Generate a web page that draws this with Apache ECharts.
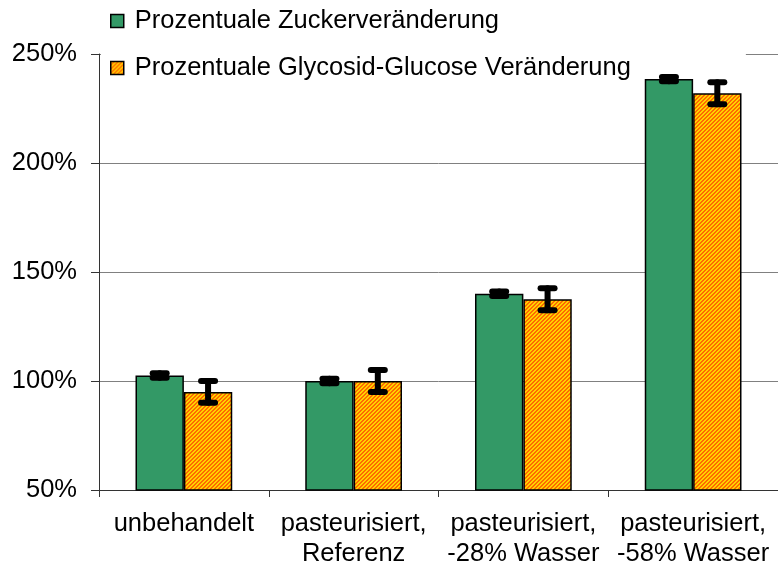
<!DOCTYPE html>
<html>
<head>
<meta charset="utf-8">
<script src="https://cdn.jsdelivr.net/npm/echarts@6/dist/echarts.min.js"></script>
<style>html,body{margin:0;padding:0;background:#fff;}#c{width:778px;height:574px;}</style>
</head>
<body>
<div id="c"></div>
<script>
const categories = ['unbehandelt', 'pasteurisiert,\nReferenz', 'pasteurisiert,\n-28% Wasser', 'pasteurisiert,\n-58% Wasser'];
const seriesNames = ['Prozentuale Zuckerveränderung', 'Prozentuale Glycosid-Glucose Veränderung'];
const sugarValues = [102.5, 100, 140, 238.5];
const sugarErrors = [1, 1, 1, 1];
const glycoValues = [95, 100, 137.5, 232];
const glycoErrors = [5, 5, 5, 5];
const yTicks = [50, 100, 150, 200, 250];

const FONT = '"Liberation Sans", Arial, sans-serif';
const FS = 25.5;
const CAT_GAP = 0.43;

// orange/yellow hatch pattern
const pc = document.createElement('canvas');
pc.width = 4; pc.height = 4;
const pctx = pc.getContext('2d');
for (let x = 0; x < 4; x++) for (let y = 0; y < 4; y++) {
  pctx.fillStyle = ((x + y) % 4 < 2) ? '#FFD200' : '#FF6A00';
  pctx.fillRect(x, y, 1, 1);
}
const hatch = { image: pc, repeat: 'repeat' };

function errSeries(idx, vals, errs) {
  return {
    type: 'custom',
    z: 5,
    data: vals.map((v, i) => [i, v - errs[i], v + errs[i]]),
    encode: { x: 0, y: [1, 2] },
    renderItem: function (params, api) {
      const i = api.value(0);
      const lo = api.coord([i, api.value(1)]);
      const hi = api.coord([i, api.value(2)]);
      const band = api.size([1, 0])[0];
      const bw = band * (1 - CAT_GAP) / 2;
      const x = lo[0] + (idx === 0 ? -bw / 2 : bw / 2);
      const cw = 7;
      const st = { stroke: '#000', lineWidth: 6, lineCap: 'round' };
      return {
        type: 'group',
        children: [
          { type: 'line', shape: { x1: x, y1: hi[1], x2: x, y2: lo[1] }, style: st },
          { type: 'line', shape: { x1: x - cw, y1: hi[1], x2: x + cw, y2: hi[1] }, style: st },
          { type: 'line', shape: { x1: x - cw, y1: lo[1], x2: x + cw, y2: lo[1] }, style: st }
        ]
      };
    }
  };
}

const chart = echarts.init(document.getElementById('c'), null, { renderer: 'canvas' });
chart.setOption({
  animation: false,
  backgroundColor: '#fff',
  textStyle: { fontFamily: FONT },
  legend: {
    data: seriesNames,
    orient: 'vertical',
    left: 101,
    top: 0,
    padding: [7, 115, 3, 9],
    backgroundColor: '#fff',
    itemGap: 19,
    itemWidth: 13,
    itemHeight: 13,
    icon: 'rect',
    itemStyle: { borderColor: '#000', borderWidth: 1.5 },
    textStyle: { fontSize: FS, lineHeight: 28, color: '#000', fontFamily: FONT, padding: [0, 0, 0, 6] },
    z: 1
  },
  grid: { left: 99, right: -3, top: 54, bottom: 84, containLabel: false },
  xAxis: {
    type: 'category',
    data: categories,
    axisLine: { lineStyle: { color: '#333', width: 1 } },
    axisTick: { show: true, alignWithLabel: false, length: 7, lineStyle: { color: '#333' } },
    axisLabel: { fontSize: FS, color: '#000', fontFamily: FONT, margin: 19, lineHeight: 30, interval: 0 }
  },
  yAxis: {
    type: 'value',
    min: 50, max: 250, interval: 50,
    axisLine: { show: true, lineStyle: { color: '#333', width: 1 } },
    axisTick: { show: true, length: 8, lineStyle: { color: '#333' } },
    axisLabel: { fontSize: FS, color: '#000', fontFamily: FONT, margin: 22, formatter: '{value}%' },
    splitLine: { show: true, lineStyle: { color: '#808080', width: 1 } }
  },
  series: [
    {
      name: seriesNames[0], type: 'bar', data: sugarValues,
      barGap: '0%', barCategoryGap: (CAT_GAP * 100) + '%',
      itemStyle: { color: '#339966', borderColor: '#000', borderWidth: 1.5 }
    },
    {
      name: seriesNames[1], type: 'bar', data: glycoValues,
      barGap: '0%', barCategoryGap: (CAT_GAP * 100) + '%',
      itemStyle: { color: hatch, borderColor: '#000', borderWidth: 1.5 }
    },
    errSeries(0, sugarValues, sugarErrors),
    errSeries(1, glycoValues, glycoErrors)
  ]
});
</script>
</body>
</html>
